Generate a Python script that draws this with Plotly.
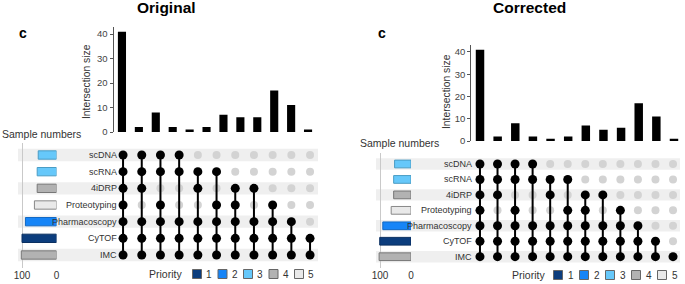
import plotly.graph_objects as go

W, H = 685, 284

# ---------------- data ----------------
set_names = ["scDNA", "scRNA", "4iDRP", "Proteotyping", "Pharmacoscopy", "CyTOF", "IMC"]
set_priority = [3, 3, 4, 5, 2, 1, 4]
set_sizes_original = [53, 56, 56, 64, 90, 100, 102]
set_sizes_corrected = [53, 56, 56, 64, 91, 101, 103]

intersection_sizes_original = [41, 2, 8, 2, 1, 2, 7, 6, 6, 17, 11, 1]
intersection_sizes_corrected = [41, 2, 8, 2, 1, 2, 7, 5, 6, 17, 11, 1]

members_original = [
    ["scDNA", "scRNA", "4iDRP", "Proteotyping", "Pharmacoscopy", "CyTOF", "IMC"],
    ["scDNA", "scRNA", "4iDRP", "Pharmacoscopy", "CyTOF", "IMC"],
    ["scDNA", "scRNA", "Proteotyping", "Pharmacoscopy", "CyTOF", "IMC"],
    ["scDNA", "scRNA", "Pharmacoscopy", "CyTOF", "IMC"],
    ["scRNA", "4iDRP", "Pharmacoscopy", "CyTOF", "IMC"],
    ["scRNA", "Proteotyping", "Pharmacoscopy", "CyTOF", "IMC"],
    ["4iDRP", "Proteotyping", "Pharmacoscopy", "CyTOF", "IMC"],
    ["4iDRP", "Pharmacoscopy", "CyTOF", "IMC"],
    ["Proteotyping", "Pharmacoscopy", "CyTOF", "IMC"],
    ["Pharmacoscopy", "CyTOF", "IMC"],
    ["CyTOF", "IMC"],
]
members_corrected = members_original + [["IMC"]]

priority_levels = [1, 2, 3, 4, 5]
priority_colors = ["#0c3d7d", "#1785f7", "#66c8fa", "#b2b2b2", "#e9e9e9"]
priority_edges = ["#0a2f60", "#1269c4", "#4a9cc4", "#777777", "#888888"]
panel_titles = ["Original", "Corrected"]

# ---------------- layout geometry (pixels) ----------------
geo = [
    dict(bars_x=(113.5, 316.5), bars_y=(27, 132), bars_max=42.9,
         mat_x=(113.7, 319.4), mat_y=(146.7, 263.3),
         set_x=(18, 56.5), set_y=(143, 268), set_yr=(-0.78, 6.72), set_max=111.6,
         band_x=(18, 318), label_x=119,
         title=(166, 8), c=(22.5, 33), sample=(0, 134), ylab=(86, 82),
         leg_text=(165, 274), leg_box0=197, leg_step=25.5, leg_lab=12),
    dict(bars_x=(471.2, 682.8), bars_y=(45, 141), bars_max=43.1,
         mat_x=(471.2, 681.8), mat_y=(156.3, 264.4),
         set_x=(376, 411), set_y=(152.7, 268.3), set_yr=(-0.75, 6.73), set_max=113,
         band_x=(376, 680), label_x=474,
         title=(529, 8), c=(382, 33), sample=(358, 143), ylab=(446, 92),
         leg_text=(528, 275), leg_box0=558, leg_step=26, leg_lab=13),
]

FONT = "Liberation Sans"


def fx(x):
    return x / W


def fy(y):
    return 1 - y / H


fig = go.Figure()
layout = dict(template="none", width=W, height=H,
              margin=dict(l=0, r=0, t=0, b=0, pad=0, autoexpand=False),
              paper_bgcolor="white", plot_bgcolor="rgba(0,0,0,0)",
              showlegend=False, font=dict(family=FONT, size=10, color="#333"))
shapes, annotations = [], []

panels = [
    (intersection_sizes_original, members_original, set_sizes_original),
    (intersection_sizes_corrected, members_corrected, set_sizes_corrected),
]

nsets = len(set_names)
row_of = {s: nsets - 1 - i for i, s in enumerate(set_names)}
col_of_priority = dict(zip(priority_levels, priority_colors))
edge_of_priority = dict(zip(priority_levels, priority_edges))

for k, (sizes, members, setsizes) in enumerate(panels):
    g = geo[k]
    ids = [3 * k + 1, 3 * k + 2, 3 * k + 3]
    xn = ["x" if i == 1 else f"x{i}" for i in ids]
    yn = ["y" if i == 1 else f"y{i}" for i in ids]
    xl = ["xaxis" if i == 1 else f"xaxis{i}" for i in ids]
    yl = ["yaxis" if i == 1 else f"yaxis{i}" for i in ids]

    # intersection bars
    fig.add_trace(go.Bar(x=list(range(len(sizes))), y=sizes, width=0.48,
                         marker=dict(color="black", line=dict(width=0)),
                         xaxis=xn[0], yaxis=yn[0]))
    layout[xl[0]] = dict(domain=[fx(g["bars_x"][0]), fx(g["bars_x"][1])],
                         range=[-0.5, len(sizes) - 0.5], visible=False,
                         anchor=yn[0], automargin=False)
    layout[yl[0]] = dict(domain=[fy(g["bars_y"][1]), fy(g["bars_y"][0])],
                         range=[0, g["bars_max"]], anchor=xn[0], automargin=False,
                         tickvals=[0, 10, 20, 30, 40], ticks="outside",
                         ticklen=3, tickcolor="#555", showline=True,
                         linecolor="#555", linewidth=1, showgrid=False,
                         zeroline=False, tickfont=dict(size=9.5, color="#444"))

    # matrix
    ncol = len(members)
    gx, gyv, bx, byv = [], [], [], []
    lx, ly = [], []
    for j, mem in enumerate(members):
        rows = [row_of[s] for s in mem]
        for s in set_names:
            r = row_of[s]
            if s in mem:
                bx.append(j); byv.append(r)
            else:
                gx.append(j); gyv.append(r)
        if len(rows) > 1:
            lx += [j, j, None]
            ly += [min(rows), max(rows), None]
    fig.add_trace(go.Scatter(x=gx, y=gyv, mode="markers",
                             marker=dict(size=8, color="#d3d3d3", line=dict(width=0)),
                             xaxis=xn[1], yaxis=yn[1]))
    fig.add_trace(go.Scatter(x=lx, y=ly, mode="lines",
                             line=dict(color="black", width=2),
                             xaxis=xn[1], yaxis=yn[1]))
    fig.add_trace(go.Scatter(x=bx, y=byv, mode="markers",
                             marker=dict(size=9, color="black", line=dict(width=0)),
                             xaxis=xn[1], yaxis=yn[1]))
    layout[xl[1]] = dict(domain=[fx(g["mat_x"][0]), fx(g["mat_x"][1])], automargin=False,
                         range=[-0.5, ncol - 0.5], visible=False, anchor=yn[1])
    layout[yl[1]] = dict(domain=[fy(g["mat_y"][1]), fy(g["mat_y"][0])], automargin=False,
                         range=[-0.5, nsets - 0.5], visible=False, anchor=xn[1])

    # set size bars
    fig.add_trace(go.Bar(orientation="h", x=setsizes,
                         y=[row_of[s] for s in set_names], width=0.5,
                         marker=dict(color=[col_of_priority[p] for p in set_priority],
                                     line=dict(color=[edge_of_priority[p] for p in set_priority],
                                               width=1)),
                         xaxis=xn[2], yaxis=yn[2]))
    layout[xl[2]] = dict(domain=[fx(g["set_x"][0]), fx(g["set_x"][1])],
                         range=[g["set_max"], 0], anchor=yn[2], automargin=False,
                         tickvals=[0, 100], showgrid=True, gridcolor="#c9c9c9",
                         gridwidth=1, zeroline=False, showline=False, ticks="",
                         tickfont=dict(size=10, color="#333"))
    layout[yl[2]] = dict(domain=[fy(g["set_y"][1]), fy(g["set_y"][0])], automargin=False,
                         range=list(g["set_yr"]), visible=False, anchor=xn[2])

    # row bands and labels
    for i, s in enumerate(set_names):
        r = row_of[s]
        if i % 2 == 0:
            shapes.append(dict(type="rect", xref="paper", yref=yn[1],
                               x0=fx(g["band_x"][0]), x1=fx(g["band_x"][1]),
                               y0=r - 0.37, y1=r + 0.37, fillcolor="#efefef",
                               line=dict(width=0), layer="below"))
        annotations.append(dict(text=s, xref="paper", yref=yn[1], x=fx(g["label_x"]),
                                y=r, xanchor="right", yanchor="middle", showarrow=False,
                                font=dict(size=9, color="#333")))

    # texts
    annotations.append(dict(text=f"<b>{panel_titles[k]}</b>", xref="paper", yref="paper",
                            x=fx(g["title"][0]), y=fy(g["title"][1]), xanchor="center",
                            yanchor="middle", showarrow=False,
                            font=dict(size=15.5, color="black", family=FONT)))
    annotations.append(dict(text="<b>c</b>", xref="paper", yref="paper",
                            x=fx(g["c"][0]), y=fy(g["c"][1]), xanchor="center",
                            yanchor="middle", showarrow=False,
                            font=dict(size=14, color="black", family=FONT)))
    annotations.append(dict(text="Sample numbers", xref="paper", yref="paper",
                            x=fx(g["sample"][0]), y=fy(g["sample"][1]), xanchor="left",
                            yanchor="middle", showarrow=False,
                            font=dict(size=10.5, color="#333")))
    annotations.append(dict(text="Intersection size", xref="paper", yref="paper",
                            x=fx(g["ylab"][0]), y=fy(g["ylab"][1]), xanchor="center",
                            yanchor="middle", showarrow=False, textangle=-90,
                            font=dict(size=10.3, color="#333")))

    # priority legend
    ly_ = g["leg_text"][1]
    annotations.append(dict(text="Priority", xref="paper", yref="paper",
                            x=fx(g["leg_text"][0]), y=fy(ly_), xanchor="center",
                            yanchor="middle", showarrow=False,
                            font=dict(size=10.5, color="#333")))
    for n, (p, c) in enumerate(zip(priority_levels, priority_colors)):
        cx = g["leg_box0"] + n * g["leg_step"]
        shapes.append(dict(type="rect", xref="paper", yref="paper",
                           x0=fx(cx - 4.5), x1=fx(cx + 4.5), y0=fy(ly_ + 4.5), y1=fy(ly_ - 4.5),
                           fillcolor=c, line=dict(color="#666", width=1)))
        annotations.append(dict(text=str(p), xref="paper", yref="paper",
                                x=fx(cx + g["leg_lab"]), y=fy(ly_), xanchor="center",
                                yanchor="middle", showarrow=False,
                                font=dict(size=10, color="#333")))

layout["shapes"] = shapes
layout["annotations"] = annotations
fig.update_layout(**layout)
fig.write_html("out.html", config={"displayModeBar": False},
               post_script="document.body.style.margin='0';")
